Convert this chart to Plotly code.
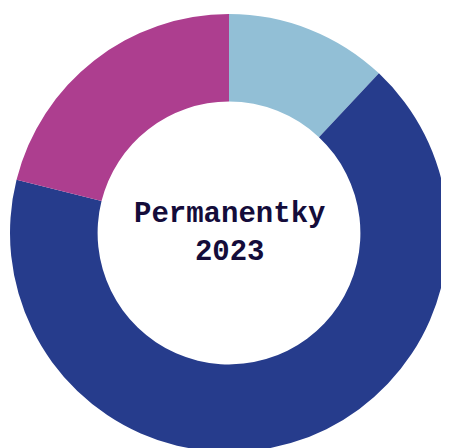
import plotly.graph_objects as go

labels = ["Kategorie A", "Kategorie B", "Kategorie C"]
values = [12.0, 66.9, 21.1]
colors = ["#92BFD6", "#263C8C", "#AD3E8F"]
center_lines = ["Permanentky", "2023"]

fig = go.Figure(
    go.Pie(
        labels=labels,
        values=values,
        hole=0.6,
        sort=False,
        direction="clockwise",
        rotation=0,
        marker=dict(colors=colors, line=dict(width=0)),
        textinfo="none",
        hoverinfo="label+percent",
        showlegend=False,
    )
)

fig.add_annotation(
    text="<b>" + "<br>".join(center_lines) + "</b>",
    x=0.5, y=0.5, xref="paper", yref="paper",
    showarrow=False,
    font=dict(family="Liberation Mono", size=29, color="#140C3A"),
    align="center",
)

fig.update_layout(
    width=449,
    height=448,
    margin=dict(l=2, r=9, t=6, b=4),
    paper_bgcolor="white",
    plot_bgcolor="white",
)

fig.write_html("out.html")
